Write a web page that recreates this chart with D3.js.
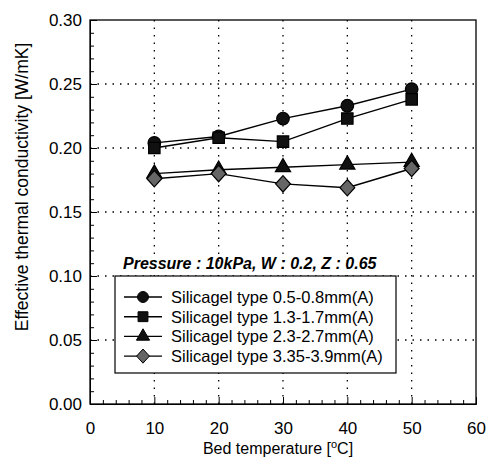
<!DOCTYPE html>
<html>
<head>
<meta charset="utf-8">
<script src="https://cdn.jsdelivr.net/npm/d3@7"></script>
<style>
  body { margin: 0; background: #fff; }
  svg { font-family: "Liberation Sans", Arial, sans-serif; }
</style>
</head>
<body>
<div id="chart"></div>
<script>
// données
var temperatures = [10, 20, 30, 40, 50];
var serie05 = [0.204, 0.209, 0.223, 0.233, 0.246];
var serie13 = [0.200, 0.208, 0.205, 0.223, 0.238];
var serie23 = [0.180, 0.183, 0.185, 0.187, 0.189];
var serie335 = [0.176, 0.180, 0.172, 0.169, 0.184];
var nomsSeries = [
  "Silicagel type 0.5-0.8mm(A)",
  "Silicagel type 1.3-1.7mm(A)",
  "Silicagel type 2.3-2.7mm(A)",
  "Silicagel type 3.35-3.9mm(A)"
];
var ticksX = [0, 10, 20, 30, 40, 50, 60];
var ticksY = [0, 0.05, 0.10, 0.15, 0.20, 0.25, 0.30];

var W = 493, H = 473;
var marge = { top: 20, right: 17, bottom: 69, left: 90 };
var larg = W - marge.left - marge.right,
    haut = H - marge.top - marge.bottom;

var svg = d3.select("#chart").append("svg")
  .attr("width", W).attr("height", H);
var g = svg.append("g")
  .attr("transform", "translate(" + marge.left + "," + marge.top + ")");

var x = d3.scaleLinear().domain([0, 60]).range([0, larg]);
var y = d3.scaleLinear().domain([0, 0.30]).range([haut, 0]);

// grilles pointillées
g.append("g").selectAll("line")
  .data(ticksX.slice(1, -1))
  .enter().append("line")
    .attr("x1", d => x(d)).attr("x2", d => x(d))
    .attr("y1", 0).attr("y2", haut)
    .attr("stroke", "#000").attr("stroke-width", 1.3)
    .attr("stroke-dasharray", "1.5,6");
g.append("g").selectAll("line")
  .data(ticksY.slice(1, -1))
  .enter().append("line")
    .attr("x1", 0).attr("x2", larg)
    .attr("y1", d => y(d)).attr("y2", d => y(d))
    .attr("stroke", "#000").attr("stroke-width", 1.3)
    .attr("stroke-dasharray", "1.5,6");

// axes : graduations vers l'intérieur
var axeX = g.append("g").attr("transform", "translate(0," + haut + ")")
  .call(d3.axisBottom(x).tickValues(d3.range(0, 61, 2)).tickSize(-4).tickFormat(""));
axeX.selectAll(".tick line").filter(d => d % 10 === 0).attr("y2", -7);
var axeXlab = g.append("g").attr("transform", "translate(0," + haut + ")")
  .call(d3.axisBottom(x).tickValues(ticksX).tickSize(0).tickPadding(18).tickFormat(d3.format("d")));
axeXlab.select(".domain").remove();

var axeY = g.append("g")
  .call(d3.axisLeft(y).tickValues(d3.range(0, 0.301, 0.01)).tickSize(-4).tickFormat(""));
axeY.selectAll(".tick line").filter((d, i) => i % 5 === 0).attr("x2", 7);
var axeYlab = g.append("g")
  .call(d3.axisLeft(y).tickValues(ticksY).tickSize(0).tickPadding(8).tickFormat(d3.format(".2f")));
axeYlab.select(".domain").remove();

svg.selectAll(".tick text").attr("font-size", 17).attr("fill", "#000")
  .attr("font-family", "Liberation Sans, Arial, sans-serif");

// cadre
g.append("rect").attr("width", larg).attr("height", haut)
  .attr("fill", "none").attr("stroke", "#000").attr("stroke-width", 1.3);

// titres des axes
svg.append("text")
  .attr("x", 278).attr("y", 454)
  .attr("text-anchor", "middle").attr("font-size", 16)
  .html("Bed temperature [<tspan baseline-shift='super' font-size='11'>o</tspan>C]");
svg.append("text")
  .attr("transform", "translate(28,187) rotate(-90)")
  .attr("text-anchor", "middle").attr("font-size", 17.5)
  .text("Effective thermal conductivity [W/mK]");

// symboles
var losange = {
  draw: function (ctx, size) {
    var r = Math.sqrt(size / 2);
    ctx.moveTo(0, -r * 1.1); ctx.lineTo(r, 0); ctx.lineTo(0, r * 1.1); ctx.lineTo(-r, 0); ctx.closePath();
  }
};
var symboles = [
  { type: d3.symbolCircle, taille: 125, fill: "#111" },
  { type: d3.symbolSquare, taille: 130, fill: "#111" },
  { type: d3.symbolTriangle, taille: 100, fill: "#111" },
  { type: losange, taille: 110, fill: "#666" }
];
var series = [serie05, serie13, serie23, serie335];

var ligne = d3.line().x((d, i) => x(temperatures[i])).y(d => y(d));

series.forEach(function (s, k) {
  g.append("path").datum(s)
    .attr("d", ligne).attr("fill", "none")
    .attr("stroke", "#000").attr("stroke-width", 1.4);
  g.append("g").selectAll("path")
    .data(s).enter().append("path")
      .attr("transform", (d, i) => "translate(" + x(temperatures[i]) + "," + y(d) + ")")
      .attr("d", d3.symbol().type(symboles[k].type).size(symboles[k].taille))
      .attr("fill", symboles[k].fill)
      .attr("stroke", "#000").attr("stroke-width", 1.2);
});

// annotation
svg.append("text")
  .attr("x", 123).attr("y", 269)
  .attr("font-size", 16).attr("font-weight", "bold").attr("font-style", "italic")
  .text("Pressure : 10kPa, W : 0.2, Z : 0.65");

// légende
var leg = svg.append("g");
leg.append("rect")
  .attr("x", 115).attr("y", 276).attr("width", 281).attr("height", 97)
  .attr("fill", "#fff").attr("stroke", "#000").attr("stroke-width", 1.2);
nomsSeries.forEach(function (nom, k) {
  var yy = 297 + k * 19.7;
  leg.append("line")
    .attr("x1", 124).attr("x2", 162).attr("y1", yy).attr("y2", yy)
    .attr("stroke", "#000").attr("stroke-width", 1.4);
  leg.append("path")
    .attr("transform", "translate(143," + yy + ")")
    .attr("d", d3.symbol().type(symboles[k].type).size(symboles[k].taille * 0.75))
    .attr("fill", symboles[k].fill).attr("stroke", "#000");
  leg.append("text")
    .attr("x", 171).attr("y", yy + 6)
    .attr("font-size", 16.5).text(nom);
});
</script>
</body>
</html>
